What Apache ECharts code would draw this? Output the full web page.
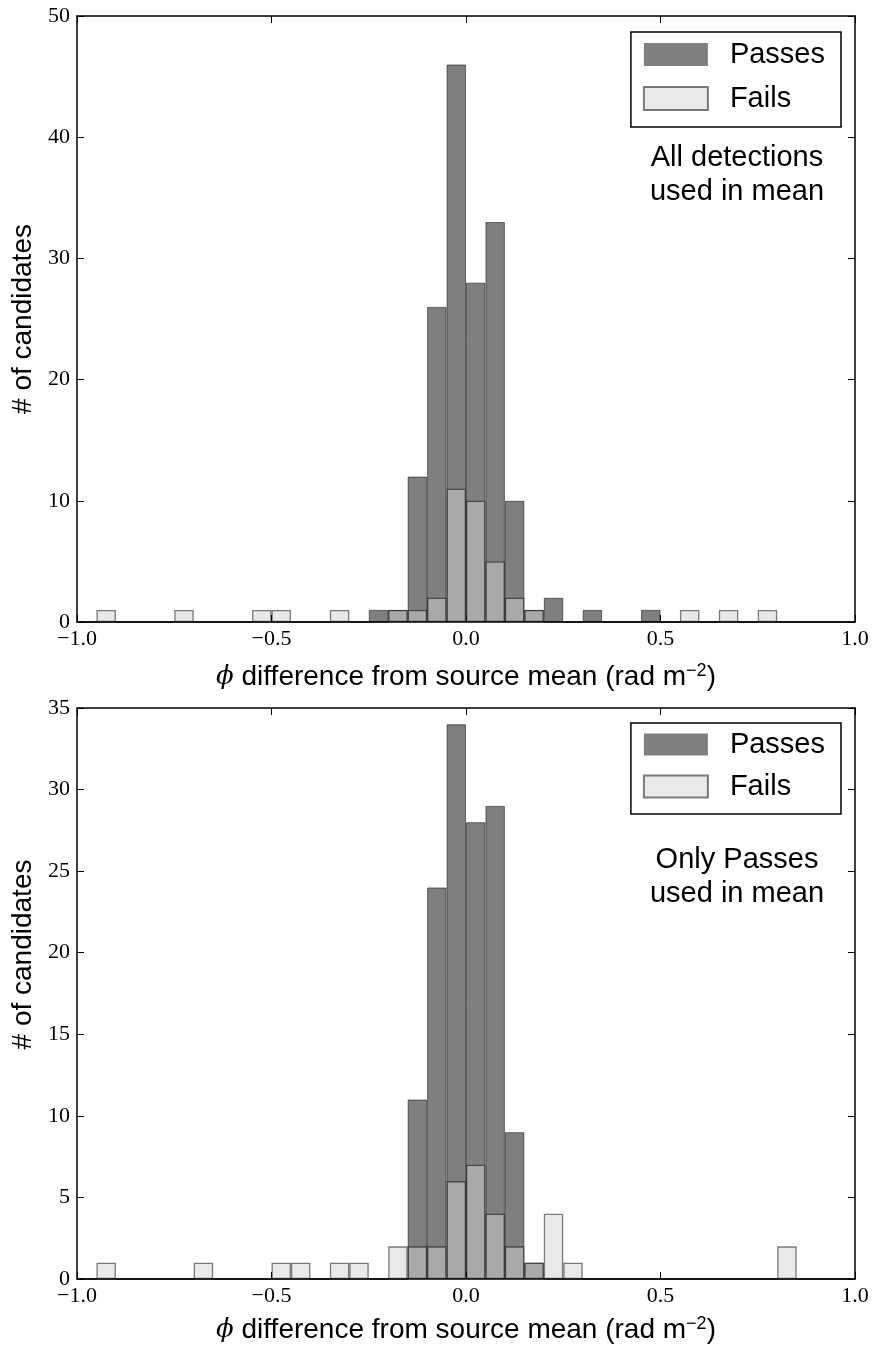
<!DOCTYPE html>
<html>
<head>
<meta charset="utf-8">
<script src="https://cdn.jsdelivr.net/npm/echarts@6/dist/echarts.min.js"></script>
<style>html,body{margin:0;padding:0;background:#fff;}#c{width:875px;height:1346px;}</style>
</head>
<body>
<div id="c"></div>
<script>
// Histogram bin left edges (bin width 0.05)
const binEdges = ['-1.00','-0.95','-0.90','-0.85','-0.80','-0.75','-0.70','-0.65','-0.60','-0.55',
                  '-0.50','-0.45','-0.40','-0.35','-0.30','-0.25','-0.20','-0.15','-0.10','-0.05',
                  '0.00','0.05','0.10','0.15','0.20','0.25','0.30','0.35','0.40','0.45',
                  '0.50','0.55','0.60','0.65','0.70','0.75','0.80','0.85','0.90','0.95'];

// Top panel: all detections used in mean
const topPasses = [0,0,0,0,0, 0,0,0,0,0, 0,0,0,0,0, 1,1,12,26,46, 28,33,10,1,2, 0,1,0,0,1, 0,0,0,0,0, 0,0,0,0,0];
const topFails  = [0,1,0,0,0, 1,0,0,0,1, 1,0,0,1,0, 0,1,1,2,11, 10,5,2,1,0, 0,0,0,0,0, 0,1,0,1,0, 1,0,0,0,0];

// Bottom panel: only passes used in mean
const botPasses = [0,0,0,0,0, 0,0,0,0,0, 0,0,0,0,0, 0,0,11,24,34, 28,29,9,1,0, 0,0,0,0,0, 0,0,0,0,0, 0,0,0,0,0];
const botFails  = [0,1,0,0,0, 0,1,0,0,0, 1,1,0,1,1, 0,2,2,2,6, 7,4,2,1,4, 1,0,0,0,0, 0,0,0,0,0, 0,2,0,0,0];

const xMin = -1, xMax = 1, xInterval = 0.5;
const topYMax = 50, topYInterval = 10;
const botYMax = 35, botYInterval = 5;

const legendNames = ['Passes', 'Fails'];
const topNote = 'All detections\nused in mean';
const botNote = 'Only Passes\nused in mean';
const xName = '{phi|ϕ} difference from source mean (rad m{sup|−2})';
const yName = '# of candidates';

const SANS = 'Liberation Sans';
const SERIF = 'Liberation Serif';
const lineStyle = { color: '#000', width: 1.5 };
const tickStyle = { show: true, inside: true, length: 7, lineStyle: { color: '#000', width: 1 } };

function fmtX(v) {
  const s = Math.abs(v).toFixed(1);
  return (v < 0 ? '\u2212' : '') + s;
}

function xAxes(gi, gap) {
  return [
    { type: 'category', gridIndex: gi, data: binEdges, show: false, boundaryGap: true },
    { type: 'value', gridIndex: gi, position: 'bottom', min: xMin, max: xMax, interval: xInterval,
      axisLine: { show: true, onZero: false, lineStyle: lineStyle }, axisTick: tickStyle,
      splitLine: { show: false },
      axisLabel: { formatter: fmtX, color: '#000', fontFamily: SERIF, fontSize: 22, margin: 6 },
      name: xName, nameLocation: 'middle', nameGap: gap,
      nameTextStyle: { color: '#000', fontFamily: SANS, fontSize: 28, lineHeight: 30,
        rich: {
          phi: { fontFamily: 'DejaVu Serif', fontStyle: 'italic', fontSize: 26, color: '#000', lineHeight: 30 },
          sup: { fontFamily: SANS, fontSize: 18, color: '#000', verticalAlign: 'top', lineHeight: 18 }
        } } },
    { type: 'value', gridIndex: gi, position: 'top', min: xMin, max: xMax, interval: xInterval,
      axisLine: { show: true, onZero: false, lineStyle: lineStyle }, axisTick: tickStyle,
      splitLine: { show: false }, axisLabel: { show: false } }
  ];
}

function yAxes(gi, maxV, interval, pad) {
  return [
    { type: 'value', gridIndex: gi, position: 'left', min: 0, max: maxV, interval: interval,
      axisLine: { show: true, onZero: false, lineStyle: lineStyle }, axisTick: tickStyle,
      splitLine: { show: false },
      axisLabel: { color: '#000', fontFamily: SERIF, fontSize: 22, margin: 7 },
      name: yName, nameLocation: 'middle', nameRotate: 90, nameGap: 36,
      nameTextStyle: { color: '#000', fontFamily: SANS, fontSize: 28, padding: pad } },
    { type: 'value', gridIndex: gi, position: 'right', min: 0, max: maxV, interval: interval,
      axisLine: { show: true, onZero: false, lineStyle: lineStyle }, axisTick: tickStyle,
      splitLine: { show: false }, axisLabel: { show: false } }
  ];
}

function barSeries(name, data, xi, yi) {
  const isPass = name === 'Passes';
  return {
    name: name, type: 'bar', xAxisIndex: xi, yAxisIndex: yi, data: data,
    barGap: '-100%', barCategoryGap: '0%',
    itemStyle: isPass
      ? { color: 'rgba(0,0,0,0.5)', borderColor: 'rgba(0,0,0,0.5)', borderWidth: 1 }
      : { color: 'rgba(211,211,211,0.5)', borderColor: 'rgba(0,0,0,0.5)', borderWidth: 1.3 },
    emphasis: { disabled: true }
  };
}

function legendFor(top, pad, gap, ih) {
  return {
    data: [ { name: legendNames[0], itemStyle: { borderWidth: 0 } }, { name: legendNames[1] } ],
    orient: 'vertical', right: 34, top: top,
    itemWidth: 64, itemHeight: ih, itemGap: gap, padding: pad,
    borderColor: '#000', borderWidth: 1.5, backgroundColor: '#fff', icon: 'rect',
    selectedMode: false,
    textStyle: { color: '#000', fontFamily: SANS, fontSize: 29, padding: [0, 0, 0, 17] }
  };
}

const chart = echarts.init(document.getElementById('c'), null, { renderer: 'canvas' });
chart.setOption({
  animation: false,
  backgroundColor: '#fff',
  grid: [
    { left: 77, right: 20, top: 16, height: 606 },
    { left: 77, right: 20, top: 708, height: 572 }
  ],
  xAxis: xAxes(0, 40).concat(xAxes(1, 36)),
  yAxis: yAxes(0, topYMax, topYInterval, [0, 0, 0, 0]).concat(yAxes(1, botYMax, botYInterval, [0, 0, 0, 78])),
  legend: [ legendFor(32, [8, 16, 14, 12], 15, 23), legendFor(723, [7, 16, 13, 12], 13, 22) ],
  series: [
    barSeries('Passes', topPasses, 0, 0),
    barSeries('Fails', topFails, 0, 0),
    barSeries('Passes', botPasses, 3, 2),
    barSeries('Fails', botFails, 3, 2)
  ],
  graphic: [
    { type: 'text', z: 100,
      style: { text: topNote, x: 737, y: 141, textAlign: 'center', textVerticalAlign: 'top',
               font: '29px "Liberation Sans"', lineHeight: 34, fill: '#000' } },
    { type: 'text', z: 100,
      style: { text: botNote, x: 737, y: 843, textAlign: 'center', textVerticalAlign: 'top',
               font: '29px "Liberation Sans"', lineHeight: 34, fill: '#000' } }
  ]
});
</script>
</body>
</html>
